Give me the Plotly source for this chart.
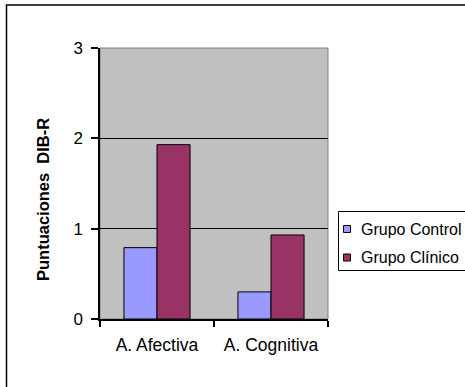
import plotly.graph_objects as go

# Chart data
categories = ["A. Afectiva", "A. Cognitiva"]
grupo_control = [0.79, 0.30]
grupo_clinico = [1.93, 0.93]
series_names = ["Grupo Control", "Grupo Clínico"]
series_colors = ["#9999FF", "#993366"]
y_ticks = [0, 1, 2, 3]

W, H = 465, 387
L, R, T, B = 100, 328, 48, 319  # plot-area edges in pixels


def px(x):
    return (x - L) / (R - L)


def py(y):
    return (B - y) / (B - T)


FONT = "Liberation Sans, Arial, sans-serif"

fig = go.Figure()
for name, vals, col in zip(series_names, [grupo_control, grupo_clinico], series_colors):
    fig.add_trace(go.Bar(
        x=categories, y=vals, name=name, showlegend=False,
        marker=dict(color=col, line=dict(color="black", width=1)),
    ))

shapes = [
    # grey plot area border (top/right)
    dict(type="rect", xref="paper", yref="paper", x0=0, x1=1, y0=0, y1=1,
         line=dict(color="#808080", width=1), layer="below"),
    # outer chart frame
    dict(type="rect", xref="paper", yref="paper",
         x0=px(6.5), x1=px(470), y0=py(395), y1=py(5),
         line=dict(color="black", width=1.5)),
    # legend box
    dict(type="rect", xref="paper", yref="paper",
         x0=px(338.5), x1=px(470), y0=py(270.5), y1=py(211.5),
         line=dict(color="black", width=1), fillcolor="white"),
]
annotations = [
    dict(text="<b>Puntuaciones  DIB-R</b>", textangle=-90, xref="paper", yref="paper",
         x=px(43), y=py(200), showarrow=False, xanchor="center", yanchor="middle",
         font=dict(family=FONT, size=16.5, color="black")),
]

legend_rows = [229, 257.5]
for name, col, yc in zip(series_names, series_colors, legend_rows):
    shapes.append(dict(type="rect", xref="paper", yref="paper",
                       x0=px(343.5), x1=px(350.5), y0=py(yc + 3.5), y1=py(yc - 3.5),
                       line=dict(color="black", width=1), fillcolor=col))
    annotations.append(dict(text=name, xref="paper", yref="paper",
                            x=px(358.5), y=py(yc), showarrow=False,
                            xanchor="left", yanchor="middle",
                            font=dict(family=FONT, size=16, color="black")))

fig.update_layout(
    width=W, height=H,
    margin=dict(l=L, r=W - R, t=T, b=H - B, pad=0),
    paper_bgcolor="white", plot_bgcolor="#C0C0C0",
    barmode="group", bargap=0.42, bargroupgap=0,
    font=dict(family=FONT, size=16, color="black"),
    shapes=shapes, annotations=annotations,
    xaxis=dict(
        type="category", showgrid=False, zeroline=False,
        showline=True, linecolor="black", linewidth=1.5,
        ticks="outside", tickson="boundaries", ticklen=6, tickcolor="black", tickwidth=1.5,
        ticklabelstandoff=9,
        tickfont=dict(family=FONT, size=17.5, color="black"),
    ),
    yaxis=dict(
        range=[0, 3], tickvals=y_ticks, ticktext=[str(v) for v in y_ticks],
        showgrid=True, gridcolor="black", gridwidth=1, zeroline=False,
        showline=True, linecolor="black", linewidth=1.5,
        ticks="outside", ticklen=7, tickcolor="black", tickwidth=1.5,
        ticklabelstandoff=5,
        tickfont=dict(family=FONT, size=17, color="black"),
    ),
)

fig.write_html("out.html")
